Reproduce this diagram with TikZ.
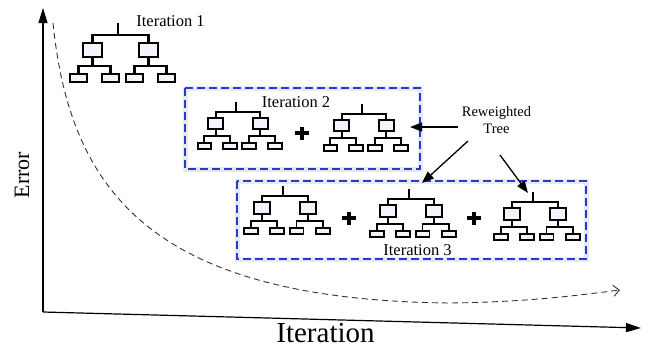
\documentclass[tikz,border=0pt]{standalone}
\usepackage{fontspec}
\setmainfont{Liberation Serif}
\usetikzlibrary{arrows.meta}
\definecolor{boxblue}{RGB}{45,55,200}
\definecolor{treefill}{RGB}{242,245,251}
\definecolor{halo}{RGB}{228,234,250}
\tikzset{
  tree/.pic={
    \draw (0,0) -- (0,12);
    \draw (-25.5,20) -- (-25.5,12) -- (30.5,12) -- (30.5,20);
    \draw[fill=treefill] (-35,20) rectangle (-16,34);
    \draw[fill=treefill] (21,20) rectangle (40,34);
    \draw (-25.5,34) -- (-25.5,43);
    \draw (30.5,34) -- (30.5,43);
    \draw (-39.5,51) -- (-39.5,43) -- (-7.5,43) -- (-7.5,51);
    \draw (16.5,51) -- (16.5,43) -- (48.5,43) -- (48.5,51);
    \draw[fill=treefill] (-48,51) rectangle (-31,59);
    \draw[fill=treefill] (-16,51) rectangle (1,59);
    \draw[fill=treefill] (8,51) rectangle (25,59);
    \draw[fill=treefill] (40,51) rectangle (57,59);
  },
  plus/.pic={
    \draw[line width=3.6pt] (-7,0) -- (7,0);
    \draw[line width=3.6pt] (0,-6.5) -- (0,6.5);
  },
  itbox/.style={draw=boxblue, line width=1.3pt, dash pattern=on 8pt off 4pt},
  halobox/.style={draw=halo, line width=5pt},
  lbl/.style={font=\fontsize{16.5}{18}\selectfont, inner sep=0pt},
  axis/.style={line width=1.2pt, -{Triangle[length=15pt,width=9pt]}},
  rwarrow/.style={line width=1.3pt, -{Triangle[length=12pt,width=9pt]}},
  errcurve/.style={line width=0.9pt, draw=black!80, dash pattern=on 6pt off 4pt, -{Straight Barb[length=6pt,width=11pt]}},
}
\begin{document}
\begin{tikzpicture}[x=1pt,y=-1pt]
\useasboundingbox (0,0) rectangle (648,349);

% axes
\coordinate (o) at (43,312);
\coordinate (ytop) at (43,8);
\coordinate (xend) at (641,328);
\draw[axis] (o) -- (ytop);
\draw[axis] (o) -- (xend);
\node[font=\fontsize{29}{31}\selectfont, anchor=base, inner sep=0pt] (xl) at (325.5,342) {Iteration};
\node[font=\fontsize{22}{24}\selectfont, anchor=base, rotate=90, inner sep=0pt] (yl) at (29,175) {Error};

% error curve
\coordinate (c0) at (53,23);
\coordinate (c1) at (450,303);
\coordinate (c2) at (620,290);
\draw[errcurve] (c0) .. controls (70,190) and (150,300) .. (c1) .. controls (530,302) and (580,295) .. (c2);

% iteration boxes
\draw[halobox] (185,88) rectangle (420,169);
\draw[halobox] (237,181) rectangle (586,259);
\draw[itbox] (185,88) rectangle (420,169);
\draw[itbox] (237,181) rectangle (586,259);

% trees
\pic[line width=2.3pt] at (118,23) {tree};
\pic[line width=1.9pt, scale=0.8] at (236,102) {tree};
\pic[line width=1.9pt, scale=0.8] at (362,104) {tree};
\pic[line width=1.9pt, scale=0.82] at (283,186) {tree};
\pic[line width=1.9pt, scale=0.82] at (409,189) {tree};
\pic[line width=1.9pt, scale=0.82] at (533,192) {tree};

% plus signs
\pic at (302,133) {plus};
\pic at (349,218) {plus};
\pic at (474,218) {plus};

% labels
\node[lbl, anchor=base] (it1) at (170.5,26) {Iteration 1};
\node[lbl, anchor=base] (it2) at (296,107) {Iteration 2};
\node[lbl, anchor=base] (it3) at (417.5,255) {Iteration 3};

\node[font=\fontsize{14.5}{17}\selectfont, align=center, inner sep=0pt, anchor=base] (rw) at (496.5,133) {Reweighted\\Tree};

\coordinate (a1s) at (458,127);
\coordinate (a1e) at (410,127);
\coordinate (a2s) at (468,141);
\coordinate (a2e) at (422,183);
\coordinate (a3s) at (500,155);
\coordinate (a3e) at (528,193);
\draw[rwarrow] (a1s) -- (a1e);
\draw[rwarrow] (a2s) -- (a2e);
\draw[rwarrow] (a3s) -- (a3e);
\end{tikzpicture}
\end{document}
